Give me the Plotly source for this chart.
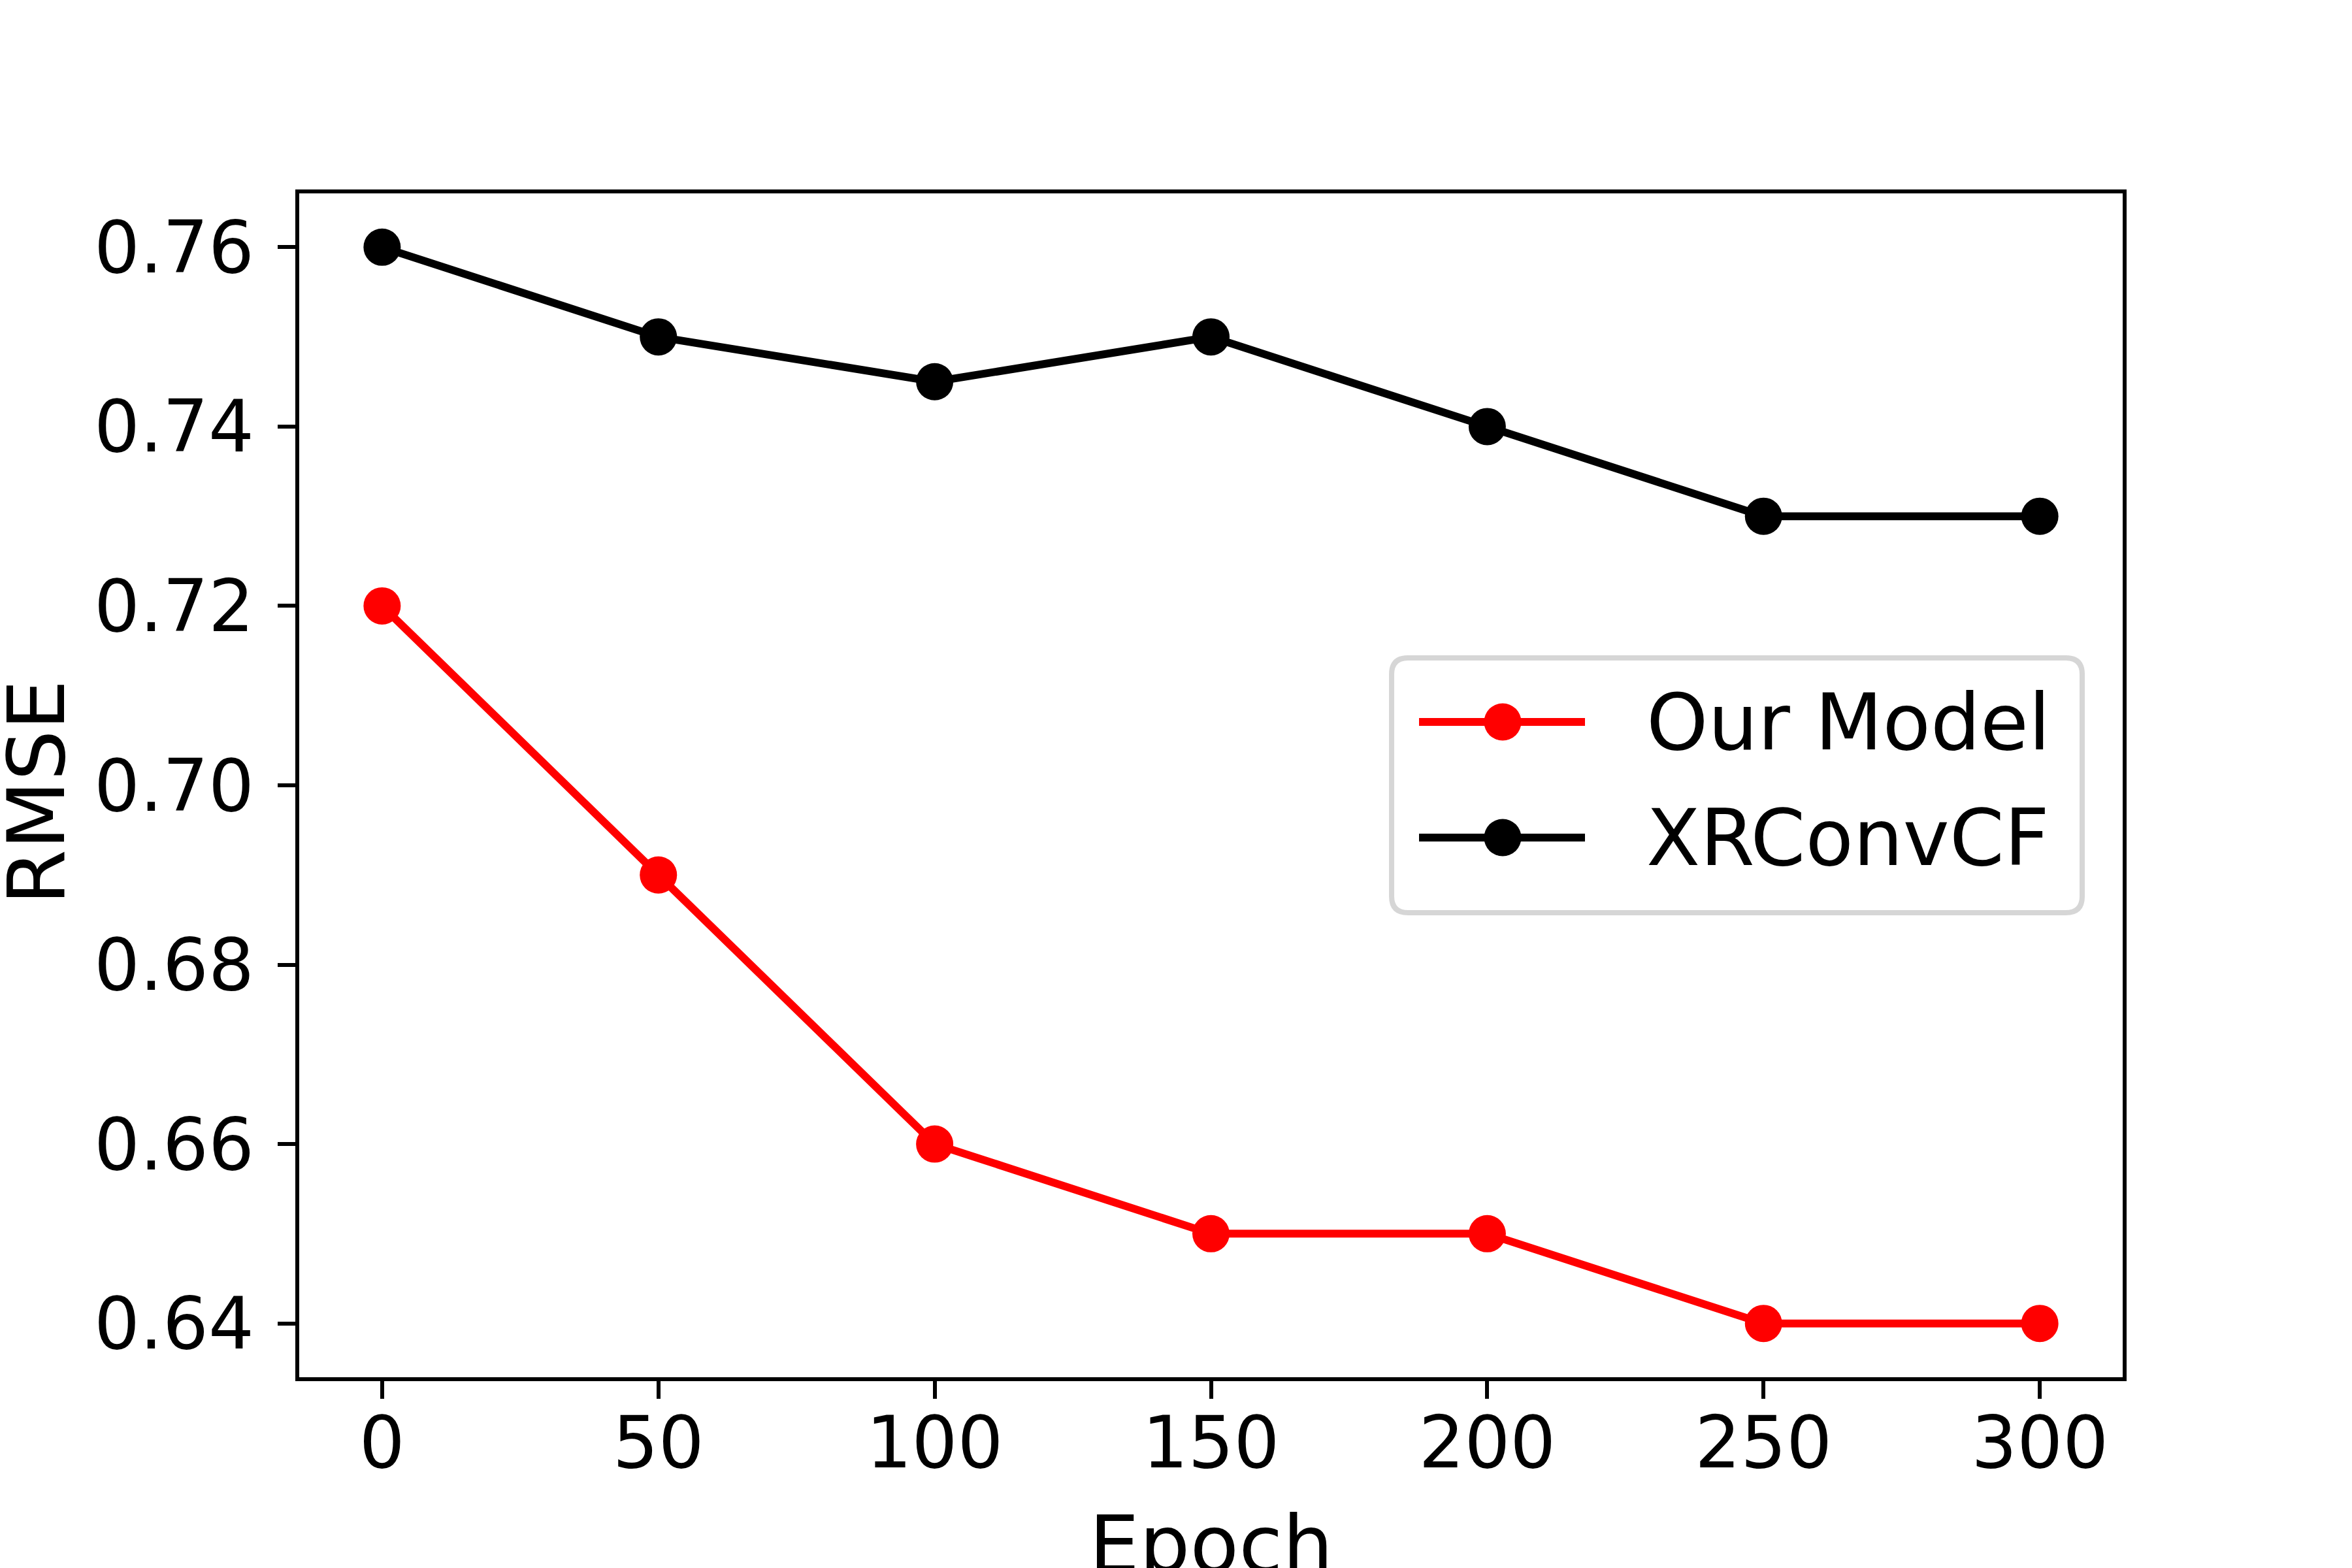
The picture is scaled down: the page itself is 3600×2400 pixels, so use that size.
import plotly.graph_objects as go

epochs = [0, 50, 100, 150, 200, 250, 300]
our_model = [0.72, 0.69, 0.66, 0.65, 0.65, 0.64, 0.64]
xrconvcf = [0.76, 0.75, 0.745, 0.75, 0.74, 0.73, 0.73]
series_names = ["Our Model", "XRConvCF"]
series_colors = ["#ff0000", "#000000"]
x_ticks = [0, 50, 100, 150, 200, 250, 300]
y_ticks = [0.64, 0.66, 0.68, 0.70, 0.72, 0.74, 0.76]
x_title = "Epoch"
y_title = "RMSE"

W, H = 3600, 2400
L, R, T, B = 450, 359, 288, 300
PW, PH = W - L - R, H - T - B
FONT = "DejaVu Sans"

def px(x):
    return (x - L) / PW

def py(y):
    return (H - B - y) / PH

fig = go.Figure()
for name, vals, col in zip(series_names, [our_model, xrconvcf], series_colors):
    fig.add_trace(go.Scatter(
        x=epochs, y=vals, name=name, mode="lines+markers",
        line=dict(color=col, width=12),
        marker=dict(color=col, size=57, line=dict(width=0)),
        showlegend=False,
    ))

# matplotlib-style legend box (center right)
bx0, bx1, by0, by1, rad = 2122, 3179, 999, 1389, 25
path_pts = [
    ("M", bx0 + rad, by0), ("L", bx1 - rad, by0), ("Q", bx1, by0, bx1, by0 + rad),
    ("L", bx1, by1 - rad), ("Q", bx1, by1, bx1 - rad, by1), ("L", bx0 + rad, by1),
    ("Q", bx0, by1, bx0, by1 - rad), ("L", bx0, by0 + rad), ("Q", bx0, by0, bx0 + rad, by0),
]
d = ""
for p in path_pts:
    cmd = p[0]
    coords = p[1:]
    parts = []
    for i in range(0, len(coords), 2):
        parts.append(f"{px(coords[i]):.5f},{py(coords[i+1]):.5f}")
    d += cmd + " ".join(parts) + " "
d += "Z"
shapes = [dict(type="path", xref="paper", yref="paper", path=d,
               line=dict(color="#d6d6d6", width=8), fillcolor="rgba(255,255,255,0.8)",
               layer="above")]
annotations = []
rows_y = [1097, 1274]
for name, col, ry in zip(series_names, series_colors, rows_y):
    shapes.append(dict(type="line", xref="paper", yref="paper",
                       x0=px(2164), x1=px(2418), y0=py(ry), y1=py(ry),
                       line=dict(color=col, width=12), layer="above"))
    shapes.append(dict(type="circle", xref="paper", yref="paper",
                       xsizemode="pixel", ysizemode="pixel",
                       xanchor=px(2292), yanchor=py(ry),
                       x0=-28.5, x1=28.5, y0=-28.5, y1=28.5,
                       fillcolor=col, line=dict(width=0), layer="above"))
    annotations.append(dict(xref="paper", yref="paper", x=px(2510), y=py(ry),
                            xanchor="left", yanchor="middle", showarrow=False,
                            text=name, font=dict(family=FONT, size=120, color="black")))

# axis titles
annotations.append(dict(xref="paper", yref="paper", x=0.5, y=py(2356),
                        xanchor="center", yanchor="middle", showarrow=False,
                        text=x_title, font=dict(family=FONT, size=122, color="black")))
annotations.append(dict(xref="paper", yref="paper", x=px(48), y=py(1205),
                        xanchor="center", yanchor="middle", showarrow=False, textangle=-90,
                        text=y_title, font=dict(family=FONT, size=122, color="black")))

axis_common = dict(
    showline=True, mirror=True, linecolor="black", linewidth=6,
    ticks="outside", ticklen=27, tickwidth=6, tickcolor="black",
    showgrid=False, zeroline=False,
    tickfont=dict(family=FONT, size=110, color="black"),
)

fig.update_layout(
    width=W, height=H,
    margin=dict(l=L, r=R, t=T, b=B, autoexpand=False),
    paper_bgcolor="white", plot_bgcolor="white",
    font=dict(family=FONT, color="black"),
    xaxis=dict(range=[-15, 315], tickvals=x_ticks, ticktext=[str(v) for v in x_ticks],
               ticklabelstandoff=-27, automargin=False, **axis_common),
    yaxis=dict(range=[0.634, 0.766], tickvals=y_ticks, ticktext=[f"{v:.2f}" for v in y_ticks],
               ticklabelstandoff=14, automargin=False, **axis_common),
    shapes=shapes, annotations=annotations,
    showlegend=False,
)

fig.write_html("out.html")
